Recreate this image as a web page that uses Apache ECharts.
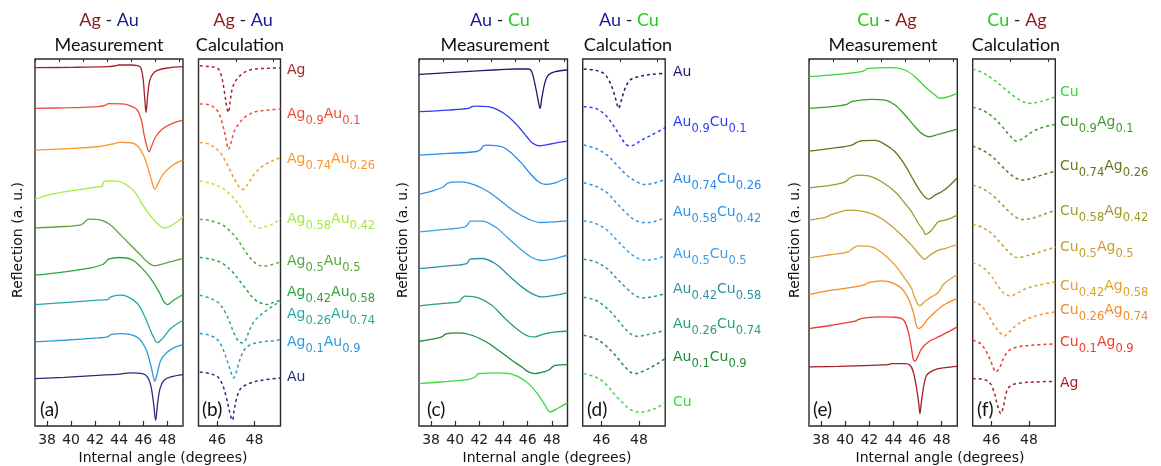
<!DOCTYPE html>
<html><head><meta charset="utf-8">
<script src="https://cdn.jsdelivr.net/npm/echarts@6/dist/echarts.min.js"></script>
<style>html,body{margin:0;padding:0;background:#fff}#c{width:1161px;height:466px}</style>
</head><body><div id="c"></div><script>
// ---------- DATA: [internal angle (deg), reflection (a.u., offset-stacked)] ----------
const agAuMeasured = [
 [[37,1074],[40,1075],[43,1077],[43.58,1079],[43.99,1082],[44.96,1082],[45.51,1080],[45.79,1074],[45.98,1042],[46.12,982],[46.23,940],[46.34,982],[46.51,1032],[46.76,1054],[47.17,1066],[48,1073],[49.3,1077]],
 [[37,952],[39.99,954],[42.2,957],[42.89,962],[43.08,966],[44.41,965],[44.96,959],[45.51,947],[45.87,912],[46.07,872],[46.34,832],[46.48,822],[46.67,837],[47.03,867],[47.59,890],[48.28,905],[49.3,917]],
 [[37,827],[39.99,832],[42.2,837],[43.3,844],[44.13,850],[44.96,849],[45.51,840],[46.07,807],[46.48,762],[46.76,727],[46.95,710],[47.17,722],[47.59,752],[48.28,777],[48.83,790],[49.3,797]],
 [[37,679],[38.06,692],[39.44,702],[40.82,709],[42.2,717],[42.59,719],[42.7,732],[43.3,735],[43.86,734],[44.55,724],[45.24,704],[45.79,672],[46.34,642],[46.9,617],[47.31,602],[47.67,594],[48.14,597],[48.83,612],[49.3,627]],
 [[37,594],[39.44,598],[40.82,603],[41.15,612],[41.43,620],[42.48,617],[43.3,602],[44.13,572],[44.96,542],[45.79,512],[46.34,492],[46.95,480],[47.72,487],[48.55,495],[49.3,502]],
 [[37,452],[39.44,462],[41.65,474],[42.61,484],[42.89,492],[43.08,500],[43.99,505],[44.96,500],[45.79,477],[46.62,442],[47.31,402],[47.72,372],[48,364],[48.41,374],[49.3,394]],
 [[37,364],[39.44,370],[42.2,377],[43.03,379],[43.3,387],[43.99,392],[44.69,388],[45.51,367],[46.07,332],[46.48,297],[46.84,267],[47.17,250],[47.59,262],[48.28,292],[49.3,317]],
 [[37,252],[39.44,257],[42.2,264],[43.03,267],[43.3,274],[44.13,277],[44.96,274],[45.65,262],[46.2,232],[46.62,182],[46.84,147],[46.95,134],[47.12,152],[47.45,197],[48,222],[48.69,237],[49.3,244]],
 [[37,142],[39.44,146],[42.2,152],[43.86,155],[44.96,159],[45.93,157],[46.34,147],[46.62,122],[46.84,72],[47.03,17],[47.17,62],[47.39,112],[47.72,137],[48.28,147],[49.3,154]]
];
const agAuCalculated = [
 [[45.07,1080],[45.6,1077],[46.04,1072],[46.26,1042],[46.39,1002],[46.53,952],[46.6,940],[46.7,972],[46.82,1012],[47.09,1042],[47.53,1062],[48.05,1070],[48.75,1072],[49.4,1074]],
 [[45.07,965],[45.6,962],[46.04,942],[46.3,902],[46.47,862],[46.61,829],[46.74,847],[46.91,882],[47.18,907],[47.53,927],[48.05,942],[48.75,947],[49.4,950]],
 [[45.07,850],[45.6,844],[46.12,822],[46.47,792],[46.82,752],[47.18,717],[47.4,709],[47.61,722],[47.96,752],[48.4,777],[48.93,794],[49.4,804]],
 [[45.07,734],[45.68,727],[46.3,712],[46.82,687],[47.18,662],[47.53,632],[47.88,607],[48.23,594],[48.58,597],[49.02,607],[49.4,622]],
 [[45.07,620],[45.68,615],[46.3,602],[46.82,577],[47.18,552],[47.53,522],[47.88,497],[48.23,482],[48.49,479],[48.84,482],[49.4,492]],
 [[45.07,505],[45.68,500],[46.3,487],[46.82,462],[47.18,437],[47.53,412],[47.96,382],[48.4,367],[48.67,364],[49.02,370],[49.4,377]],
 [[45.07,392],[45.68,382],[46.12,367],[46.47,337],[46.74,302],[46.91,277],[47.18,252],[47.4,249],[47.7,282],[47.96,312],[48.32,332],[48.67,347],[49.11,364],[49.4,372]],
 [[45.07,277],[45.6,272],[46.04,257],[46.3,232],[46.56,192],[46.74,162],[46.88,144],[47,157],[47.18,192],[47.44,227],[47.79,244],[48.4,252],[48.93,255],[49.4,259]],
 [[45.07,162],[45.6,157],[46.04,147],[46.3,122],[46.51,82],[46.65,47],[46.82,17],[46.91,47],[47.04,82],[47.26,112],[47.7,127],[48.4,137],[49.4,144]]
];
const auCuMeasured = [
 [[37,1054],[39.44,1059],[42.2,1065],[44.13,1069],[44.96,1070],[46.07,1070],[46.34,1062],[46.62,1022],[46.84,982],[47.03,952],[47.17,982],[47.45,1032],[47.72,1052],[48.28,1062],[49.3,1067]],
 [[37,942],[39.44,947],[41.09,952],[41.37,957],[41.65,959],[42.75,957],[43.58,947],[44.41,927],[45.24,897],[45.93,867],[46.34,850],[46.9,840],[47.72,844],[48.55,850],[49.3,854]],
 [[37,812],[39.44,817],[41.65,822],[42.06,827],[42.34,840],[42.61,842],[43.86,837],[44.69,817],[45.51,787],[46.2,757],[46.9,732],[47.45,724],[48.28,729],[49.3,744]],
 [[37,694],[38.33,707],[39.02,717],[39.44,729],[40.54,732],[41.65,722],[42.75,702],[43.86,672],[44.96,642],[46.07,620],[47.03,610],[48.28,612],[49.3,615]],
 [[37,582],[39.44,590],[40.82,597],[41.09,607],[41.23,614],[42.2,614],[43.3,597],[44.41,562],[45.51,527],[46.34,505],[47.17,496],[48.28,502],[49.3,512]],
 [[37,472],[39.44,480],[40.96,487],[41.23,500],[42.2,502],[43.3,487],[44.41,452],[45.51,417],[46.34,397],[47.17,387],[48.28,392],[49.3,400]],
 [[37,360],[38.88,367],[40.27,372],[40.54,382],[40.82,389],[41.92,384],[43.03,362],[44.13,322],[45.24,287],[46.07,269],[46.62,267],[47.17,274],[48.28,282],[49.3,284]],
 [[37,254],[38.33,262],[38.88,267],[39.3,277],[40.27,279],[41.37,272],[42.48,254],[43.58,227],[44.69,197],[45.51,177],[46.07,162],[46.62,157],[47.31,162],[47.72,167],[48.28,182],[49.3,184]],
 [[37,127],[39.44,134],[41.09,140],[41.65,147],[41.92,157],[43.58,159],[44.96,152],[46.07,127],[46.9,92],[47.45,62],[47.86,42],[48.55,54],[49.3,70]]
];
const auCuCalculated = [
 [[45.05,1070],[45.6,1067],[46.12,1057],[46.39,1037],[46.65,1002],[46.82,967],[46.91,952],[47.04,972],[47.26,1012],[47.53,1037],[47.96,1047],[48.67,1054],[49.4,1057]],
 [[45.05,957],[45.68,952],[46.21,932],[46.56,907],[46.91,877],[47.26,847],[47.53,839],[47.79,844],[48.14,857],[48.67,872],[49.4,894]],
 [[45.05,842],[45.68,832],[46.3,812],[46.82,782],[47.35,752],[47.88,732],[48.32,724],[48.75,727],[49.4,739]],
 [[45.05,729],[45.68,719],[46.3,699],[46.82,667],[47.35,637],[47.79,617],[48.23,610],[48.75,612],[49.4,624]],
 [[45.05,615],[45.68,607],[46.3,587],[46.82,557],[47.35,527],[47.79,507],[48.32,497],[48.84,500],[49.4,510]],
 [[45.05,500],[45.68,492],[46.3,472],[46.82,442],[47.35,412],[47.79,392],[48.14,384],[48.67,387],[49.4,397]],
 [[45.05,386],[45.68,377],[46.21,357],[46.74,327],[47.18,297],[47.61,274],[47.96,269],[48.49,274],[49.4,287]],
 [[45.05,272],[45.68,262],[46.21,242],[46.74,212],[47.18,182],[47.53,162],[47.82,157],[48.32,167],[48.84,182],[49.4,202]],
 [[45.05,157],[45.68,147],[46.21,127],[46.74,92],[47.18,67],[47.61,47],[47.96,42],[48.49,45],[49.02,57],[49.4,72]]
];
const cuAgMeasured = [
 [[37,1047],[39.44,1054],[41.37,1062],[41.65,1067],[41.92,1072],[43.86,1074],[44.96,1067],[45.79,1047],[46.62,1017],[47.45,992],[47.86,982],[48.55,987],[49.3,997]],
 [[37,952],[38.88,957],[40.13,964],[40.54,972],[42.2,979],[43.3,977],[44.13,962],[44.96,932],[45.79,897],[46.34,877],[46.95,867],[47.72,874],[48.55,882],[49.3,890]],
 [[37,824],[38.88,832],[40.54,842],[40.96,850],[41.37,855],[42.48,856],[43.3,844],[44.13,822],[44.96,782],[45.51,747],[46.07,712],[46.48,692],[46.9,680],[47.45,692],[48,702],[48.55,717],[49.3,744]],
 [[37,714],[38.88,722],[39.99,732],[40.4,744],[41.09,752],[41.92,750],[43.03,732],[44.13,702],[44.96,667],[45.51,642],[46.07,607],[46.48,587],[46.67,574],[47.17,587],[47.72,612],[48.28,617],[48.83,624],[49.3,632]],
 [[37,617],[38.33,625],[38.88,634],[39.44,640],[40.27,647],[41.37,644],[42.48,632],[43.58,607],[44.69,572],[45.51,542],[46.07,517],[46.34,507],[46.56,500],[47.03,512],[47.72,527],[48.28,532],[49.3,544]],
 [[37,504],[38.88,514],[40.27,522],[40.68,534],[41.09,540],[42.2,537],[43.3,512],[44.13,482],[44.96,442],[45.51,412],[45.79,382],[46.2,360],[46.62,374],[47.17,387],[47.72,400],[48.14,424],[49.3,454]],
 [[37,394],[38.88,407],[40.82,417],[41.65,424],[41.92,430],[43.03,435],[43.86,430],[44.69,412],[45.24,382],[45.65,342],[46.07,292],[46.48,302],[46.76,317],[47.17,332],[48.14,362],[49.3,382]],
 [[37,292],[38.88,302],[40.82,314],[41.09,319],[41.65,324],[43.03,327],[44.13,326],[44.69,322],[44.96,312],[45.24,282],[45.46,242],[45.65,200],[45.79,194],[46.07,212],[46.34,232],[46.9,252],[47.72,267],[48.55,282],[49.3,297]],
 [[37,177],[39.44,179],[42.2,182],[43.58,184],[43.86,187],[44.96,187],[45.38,182],[45.65,162],[45.93,112],[46.12,62],[46.2,37],[46.29,62],[46.48,112],[46.76,152],[47.31,167],[48.28,175],[49.3,179]]
];
const cuAgCalculated = [
 [[45,1070],[45.6,1057],[46.14,1037],[46.68,1012],[47.23,987],[47.68,972],[48.04,967],[48.58,972],[49.42,987]],
 [[45,955],[45.51,947],[46.05,927],[46.5,902],[46.95,872],[47.32,854],[47.68,862],[48.13,880],[48.67,894],[49.42,904]],
 [[45,839],[45.51,827],[46.05,807],[46.5,782],[46.95,757],[47.41,740],[47.68,737],[48.13,742],[48.67,752],[49.42,764]],
 [[45,722],[45.51,712],[46.05,692],[46.5,667],[46.95,642],[47.32,625],[47.68,619],[48.13,622],[48.67,632],[49.42,647]],
 [[45,605],[45.51,595],[46.05,575],[46.5,547],[46.95,520],[47.23,507],[47.41,505],[47.86,510],[48.49,520],[49.42,537]],
 [[45,489],[45.51,477],[45.96,452],[46.32,422],[46.68,397],[47.05,390],[47.32,397],[47.86,412],[48.49,422],[49.42,432]],
 [[45,374],[45.42,362],[45.78,337],[46.14,302],[46.5,277],[46.68,270],[46.95,282],[47.32,302],[47.77,317],[48.49,332],[49.42,342]],
 [[45,257],[45.42,247],[45.78,217],[46.05,182],[46.23,162],[46.41,172],[46.68,207],[46.95,227],[47.41,237],[48.13,242],[49.42,246]],
 [[45,142],[45.51,140],[45.87,132],[46.14,102],[46.32,62],[46.5,37],[46.65,62],[46.83,107],[47.05,122],[47.59,129],[48.31,132],[49.42,134]]
];
// composition labels: alternating [element, subscript, element, subscript]
const agAuNames = [['Ag'],['Ag','0.9','Au','0.1'],['Ag','0.74','Au','0.26'],['Ag','0.58','Au','0.42'],['Ag','0.5','Au','0.5'],['Ag','0.42','Au','0.58'],['Ag','0.26','Au','0.74'],['Ag','0.1','Au','0.9'],['Au']];
const auCuNames = [['Au'],['Au','0.9','Cu','0.1'],['Au','0.74','Cu','0.26'],['Au','0.58','Cu','0.42'],['Au','0.5','Cu','0.5'],['Au','0.42','Cu','0.58'],['Au','0.26','Cu','0.74'],['Au','0.1','Cu','0.9'],['Cu']];
const cuAgNames = [['Cu'],['Cu','0.9','Ag','0.1'],['Cu','0.74','Ag','0.26'],['Cu','0.58','Ag','0.42'],['Cu','0.5','Ag','0.5'],['Cu','0.42','Ag','0.58'],['Cu','0.26','Ag','0.74'],['Cu','0.1','Ag','0.9'],['Ag']];
const measTicks = [38,40,42,44,46,48];
const measMinorTicks = [37,39,41,43,45,47,49];
const calcTicks = [46,48];
const calcMinorTicks = [47,49];

// ---------- STYLE / LAYOUT ----------
const agAuColors = ['#a3232b','#f04b37','#f8982a','#a3ec3c','#52a83a','#2ea53a','#25a8a5','#2a9ad8','#2a2a80'];
const auCuColors = ['#1c1c6e','#2b3ef0','#2a88f0','#3493e0','#3aa0e6','#2a93a8','#28a070','#1f8a3a','#3ad83a'];
const cuAgColors = ['#34d834','#3e9a2a','#5f7a1a','#a09a2a','#c5a030','#e0a030','#f58a2a','#f03a2a','#a32028'];
const FONT = 'DejaVu Sans';
const TFONT = 'Lato';

const panels = [
 {grid:{left:35,top:59,width:148,height:367}, min:37, max:49.3, data:agAuMeasured, colors:agAuColors, calc:false, tag:'(a)', tagX:40},
 {grid:{left:198.5,top:59,width:82,height:367}, min:45, max:49.4, data:agAuCalculated, colors:agAuColors, calc:true, tag:'(b)', tagX:202},
 {grid:{left:419,top:59,width:148.5,height:367}, min:37, max:49.3, data:auCuMeasured, colors:auCuColors, calc:false, tag:'(c)', tagX:427},
 {grid:{left:582.7,top:59,width:82.5,height:367}, min:45, max:49.4, data:auCuCalculated, colors:auCuColors, calc:true, tag:'(d)', tagX:587},
 {grid:{left:809,top:59,width:148.3,height:367}, min:37, max:49.3, data:cuAgMeasured, colors:cuAgColors, calc:false, tag:'(e)', tagX:813},
 {grid:{left:972.7,top:59,width:82.6,height:367}, min:45, max:49.4, data:cuAgCalculated, colors:cuAgColors, calc:true, tag:'(f)', tagX:977}
];

const grids=[], xAxes=[], yAxes=[], series=[], graphics=[];
panels.forEach((p,i)=>{
  grids.push(Object.assign({show:true, borderColor:'#2a2a2a', borderWidth:1.4, backgroundColor:'transparent'}, p.grid));
  const major = p.calc ? calcTicks : measTicks;
  const minor = p.calc ? calcMinorTicks : measMinorTicks;
  xAxes.push({gridIndex:i, type:'value', min:p.min, max:p.max, axisLine:{show:false}, splitLine:{show:false},
    axisTick:{show:true, inside:true, length:5, customValues:major, lineStyle:{color:'#2a2a2a', width:1.2}},
    axisLabel:{show:true, customValues:major, fontSize:14, margin:7, color:'#222', fontFamily:FONT}});
  xAxes.push({gridIndex:i, type:'value', min:p.min, max:p.max, axisLine:{show:false}, splitLine:{show:false},
    axisTick:{show:true, inside:true, length:3, customValues:minor, lineStyle:{color:'#2a2a2a', width:1}},
    axisLabel:{show:false}});
  yAxes.push({gridIndex:i, type:'value', min:0, max:1100, show:false});
  p.data.forEach((curve,k)=>{
    series.push({type:'line', xAxisIndex:2*i, yAxisIndex:i, data:curve, showSymbol:false, smooth:0.35,
      silent:true, animation:false,
      lineStyle:{color:p.colors[k], width:p.calc?1.5:1.3, type:p.calc?[3,3]:'solid'}});
  });
  graphics.push({type:'text', x:p.tagX, y:410, style:{text:p.tag, fontSize:19, fontFamily:TFONT, fill:'#111', align:'left', verticalAlign:'middle'}});
});

function richLabel(parts){ return parts.map((s,i)=> (i%2===0?'{m|':'{s|') + s + '}').join(''); }
function addLabels(names, colors, x, ys){
  names.forEach((parts,k)=>{
    graphics.push({type:'text', x:x, y:ys[k]-8, style:{text:richLabel(parts), fill:colors[k], align:'left', verticalAlign:'top',
      fontFamily:FONT,
      rich:{m:{fontSize:14, lineHeight:16, verticalAlign:'top', fill:colors[k], fontFamily:FONT},
            s:{fontSize:11.5, lineHeight:12, padding:[8,0,0,0], verticalAlign:'top', fill:colors[k], fontFamily:FONT}}}});
  });
}
addLabels(agAuNames, agAuColors, 287, [71,115,160,220,262,293,315,343,378]);
addLabels(auCuNames, auCuColors, 673, [73,123,180,213,255,290,325,358,403]);
addLabels(cuAgNames, cuAgColors, 1060, [93,123,167,212,248,287,311,343,384]);

const elemColor = {Ag:'#8b1a1a', Au:'#1a1a99', Cu:'#22cc22'};
function pairTitle(cx, a, b){
  graphics.push({type:'text', x:cx, y:20, style:{text:'{a|'+a+'}{k| - }{b|'+b+'}', align:'center', verticalAlign:'middle', fontSize:18, fontFamily:TFONT,
    rich:{a:{fill:elemColor[a], fontSize:18, fontFamily:TFONT}, k:{fill:'#222', fontSize:18, fontFamily:TFONT}, b:{fill:elemColor[b], fontSize:18, fontFamily:TFONT}}}});
}
function plain(cx, cy, text, size){
  graphics.push({type:'text', x:cx, y:cy, style:{text:text, align:'center', verticalAlign:'middle', fontSize:size, fontFamily:TFONT, fill:'#111'}});
}
pairTitle(109,'Ag','Au'); plain(109,45,'Measurement',18);
pairTitle(243,'Ag','Au'); plain(240,45,'Calculation',18);
pairTitle(500,'Au','Cu'); plain(495,45,'Measurement',18);
pairTitle(629,'Au','Cu'); plain(628,45,'Calculation',18);
pairTitle(887,'Cu','Ag'); plain(883,45,'Measurement',18);
pairTitle(1017,'Cu','Ag'); plain(1016,45,'Calculation',18);
[18,403,795].forEach(x=>graphics.push({type:'text', x:x, y:240, rotation:Math.PI/2, style:{text:'Reflection (a. u.)', align:'center', verticalAlign:'middle', fontSize:14, fontFamily:FONT, fill:'#111'}}));
[163,547,940].forEach(x=>graphics.push({type:'text', x:x, y:458, style:{text:'Internal angle (degrees)', align:'center', verticalAlign:'middle', fontSize:14, fontFamily:FONT, fill:'#111'}}));

const chart = echarts.init(document.getElementById('c'), null, {renderer:'canvas'});
chart.setOption({animation:false, backgroundColor:'#fff', textStyle:{fontFamily:FONT}, grid:grids, xAxis:xAxes, yAxis:yAxes, series:series, graphic:graphics});
</script></body></html>
